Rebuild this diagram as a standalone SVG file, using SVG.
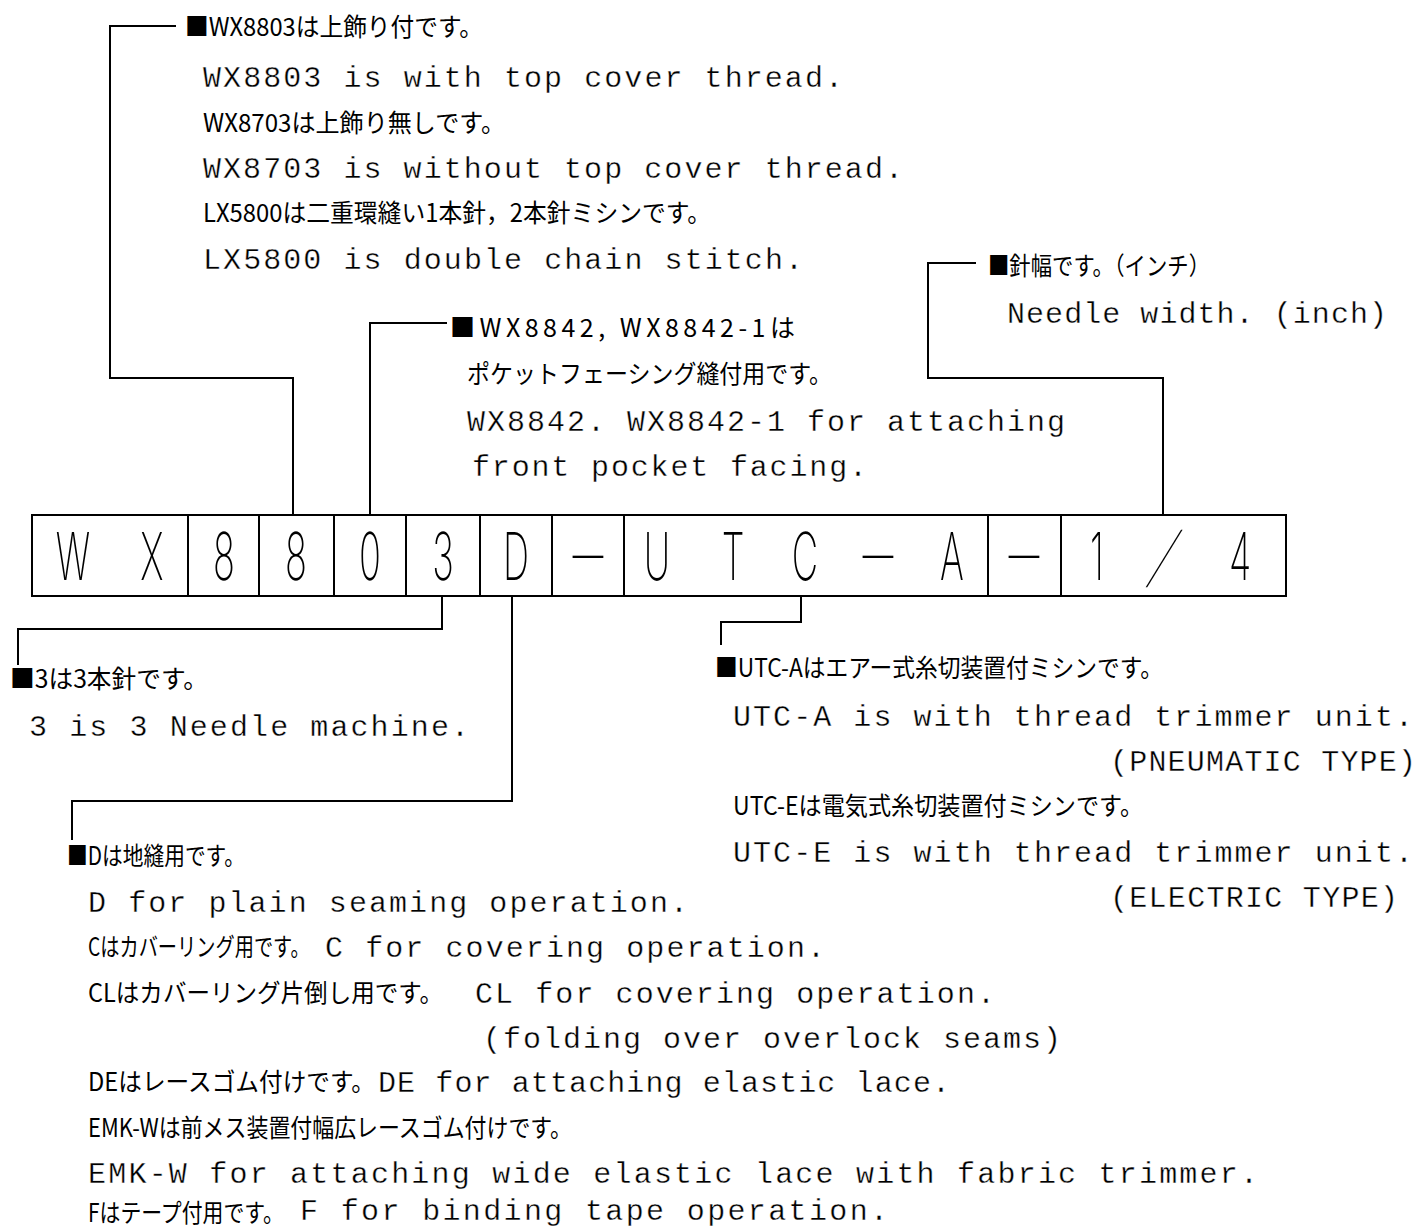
<svg xmlns="http://www.w3.org/2000/svg" width="1420" height="1228" viewBox="0 0 1420 1228">
<style>
.en{font-family:"Liberation Mono","DejaVu Sans Mono",monospace;font-size:30px;fill:#000;stroke:#fff;stroke-width:0.35px}
.jp{font-family:"Noto Sans CJK JP","Liberation Sans",sans-serif;font-size:25px;fill:#000}
.bc{font-family:Inter,"Liberation Sans",Arial,sans-serif;font-size:66px;font-weight:200;fill:#000;text-anchor:middle}
.bd{font-family:"Liberation Sans",Arial,sans-serif;font-size:30px;fill:#000;text-anchor:middle}
.ln{fill:none;stroke:#000;stroke-width:2}
</style>
<rect width="1420" height="1228" fill="#fff"/>
<g id="connectors" class="ln">
<path d="M293,515 V378 H110 V26 H176"/>
<path d="M370,515 V323 H447"/>
<path d="M1163,515 V378 H928 V263 H976"/>
<path d="M442,596 V629 H18 V665"/>
<path d="M512,596 V801 H72 V840"/>
<path d="M801,596 V622 H721 V645"/>
</g>
<g id="code-box">
<rect class="ln" x="32" y="515" width="1254" height="81"/>
<path class="ln" d="M188,515V596M259,515V596M334,515V596M406,515V596M480,515V596M552,515V596M624,515V596M988,515V596M1061,515V596"/>
<text class="bc" transform="translate(73 580) scale(0.55 1)">W</text>
<text class="bc" transform="translate(152 580) scale(0.55 1)">X</text>
<text class="bc" transform="translate(224 580) scale(0.55 1)">8</text>
<text class="bc" transform="translate(296 580) scale(0.55 1)">8</text>
<text class="bc" transform="translate(370 580) scale(0.55 1)">0</text>
<text class="bc" transform="translate(443 580) scale(0.55 1)">3</text>
<text class="bc" transform="translate(516 580) scale(0.55 1)">D</text>
<text class="bd" transform="translate(588 565) scale(4.2 1)">-</text>
<text class="bc" transform="translate(657 580) scale(0.55 1)">U</text>
<text class="bc" transform="translate(733 580) scale(0.55 1)">T</text>
<text class="bc" transform="translate(805 580) scale(0.55 1)">C</text>
<text class="bd" transform="translate(878 565) scale(4.2 1)">-</text>
<text class="bc" transform="translate(952 580) scale(0.55 1)">A</text>
<text class="bd" transform="translate(1024 565) scale(4.2 1)">-</text>
<text class="bc" transform="translate(1097 580) scale(0.55 1)">1</text>
<text class="bc" transform="translate(1154 580) skewX(-25) scale(0.55 1)">/</text>
<text class="bc" transform="translate(1240 580) scale(0.55 1)">4</text>
</g>
<g id="note-model">
<text class="jp" x="185" y="36" textLength="298" lengthAdjust="spacingAndGlyphs">■WX8803は上飾り付です。</text>
<text class="en" x="203" y="87" textLength="640" lengthAdjust="spacing">WX8803 is with top cover thread.</text>
<text class="jp" x="203" y="132" textLength="302" lengthAdjust="spacingAndGlyphs">WX8703は上飾り無しです。</text>
<text class="en" x="203" y="178" textLength="700" lengthAdjust="spacing">WX8703 is without top cover thread.</text>
<text class="jp" x="203" y="222" textLength="508" lengthAdjust="spacingAndGlyphs">LX5800は二重環縫い1本針，2本針ミシンです。</text>
<text class="en" x="203" y="269" textLength="600" lengthAdjust="spacing">LX5800 is double chain stitch.</text>
</g>
<g id="note-width">
<text class="jp" x="988" y="275" textLength="222" lengthAdjust="spacingAndGlyphs">■針幅です。（インチ）</text>
<text class="en" x="1007" y="323" textLength="380" lengthAdjust="spacing">Needle width. (inch)</text>
</g>
<g id="note-pocket">
<text class="jp" x="450" y="337" textLength="345" lengthAdjust="spacing">■WX8842, WX8842-1は</text>
<text class="jp" x="467" y="383" textLength="365" lengthAdjust="spacingAndGlyphs">ポケットフェーシング縫付用です。</text>
<text class="en" x="467" y="431" textLength="598" lengthAdjust="spacing">WX8842. WX8842-1 for attaching</text>
<text class="en" x="472" y="476" textLength="395" lengthAdjust="spacing">front pocket facing.</text>
</g>
<g id="note-needle">
<text class="jp" x="10" y="688" textLength="198" lengthAdjust="spacingAndGlyphs">■3は3本針です。</text>
<text class="en" x="29" y="736" textLength="440" lengthAdjust="spacing">3 is 3 Needle machine.</text>
</g>
<g id="note-trimmer">
<text class="jp" x="715" y="677" textLength="448" lengthAdjust="spacingAndGlyphs">■UTC-Aはエアー式糸切装置付ミシンです。</text>
<text class="en" x="733" y="726" textLength="680" lengthAdjust="spacing">UTC-A is with thread trimmer unit.</text>
<text class="en" x="1110" y="771" textLength="306" lengthAdjust="spacing">(PNEUMATIC TYPE)</text>
<text class="jp" x="733" y="815" textLength="410" lengthAdjust="spacingAndGlyphs">UTC-Eは電気式糸切装置付ミシンです。</text>
<text class="en" x="733" y="862" textLength="680" lengthAdjust="spacing">UTC-E is with thread trimmer unit.</text>
<text class="en" x="1110" y="907" textLength="288" lengthAdjust="spacing">(ELECTRIC TYPE)</text>
</g>
<g id="note-operation">
<text class="jp" x="67" y="865" textLength="178" lengthAdjust="spacingAndGlyphs">■Dは地縫用です。</text>
<text class="en" x="88" y="912" textLength="600" lengthAdjust="spacing">D for plain seaming operation.</text>
<text class="jp" transform="translate(88 956) scale(0.8 1)" x="0" y="0" textLength="277" lengthAdjust="spacingAndGlyphs">Cはカバーリング用です。</text>
<text class="en" x="325" y="957" textLength="500" lengthAdjust="spacing">C for covering operation.</text>
<text class="jp" x="88" y="1002" textLength="355" lengthAdjust="spacingAndGlyphs">CLはカバーリング片倒し用です。</text>
<text class="en" x="475" y="1003" textLength="520" lengthAdjust="spacing">CL for covering operation.</text>
<text class="en" x="483" y="1048" textLength="578" lengthAdjust="spacing">(folding over overlock seams)</text>
<text class="jp" x="88" y="1091" textLength="287" lengthAdjust="spacingAndGlyphs">DEはレースゴム付けです。</text>
<text class="en" x="378" y="1092" textLength="572" lengthAdjust="spacing">DE for attaching elastic lace.</text>
<text class="jp" x="88" y="1137" textLength="484" lengthAdjust="spacingAndGlyphs">EMK-Wは前メス装置付幅広レースゴム付けです。</text>
<text class="en" x="88" y="1183" textLength="1170" lengthAdjust="spacing">EMK-W for attaching wide elastic lace with fabric trimmer.</text>
<text class="jp" x="88" y="1222" textLength="196" lengthAdjust="spacingAndGlyphs">Fはテープ付用です。</text>
<text class="en" x="300" y="1220" textLength="588" lengthAdjust="spacing">F for binding tape operation.</text>
</g>
</svg>
